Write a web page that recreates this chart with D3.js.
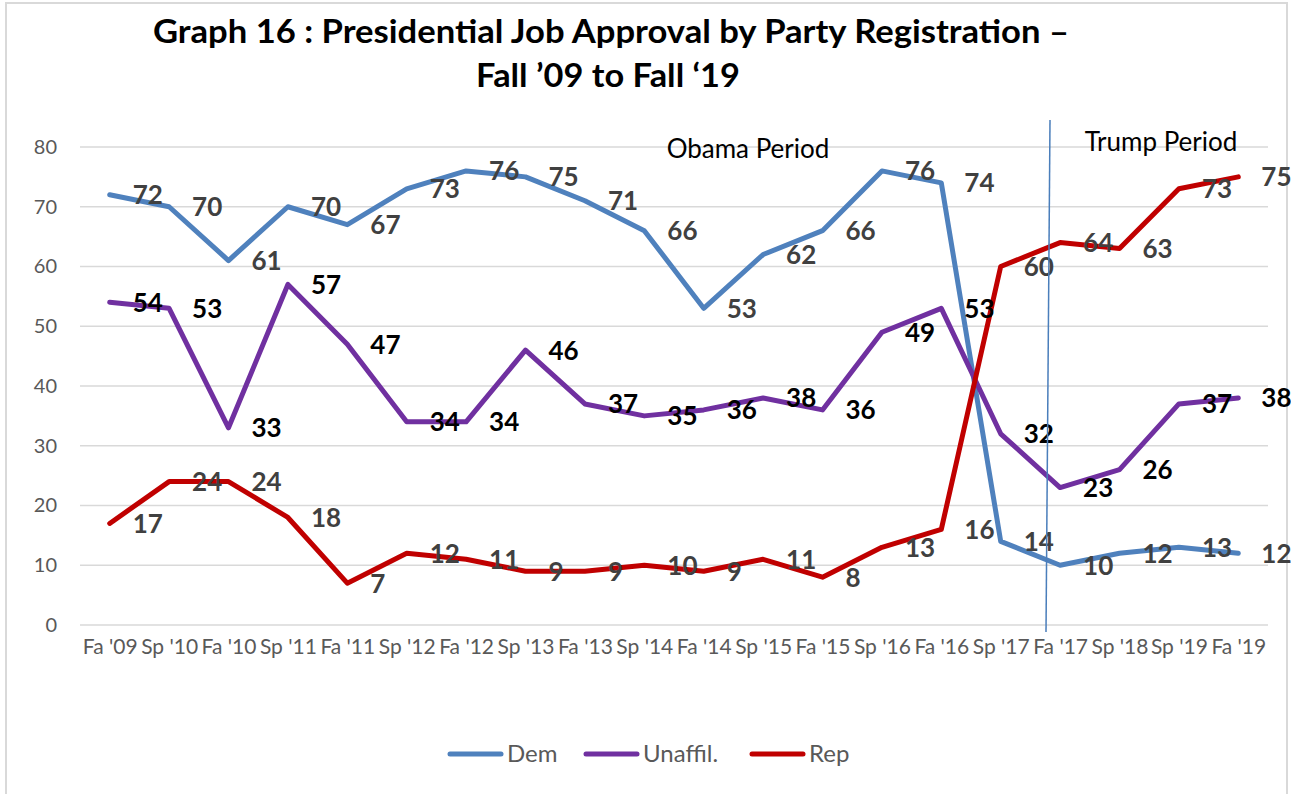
<!DOCTYPE html>
<html>
<head>
<meta charset="utf-8">
<script src="https://cdn.jsdelivr.net/npm/d3@7"></script>
<style>
  html, body { margin: 0; padding: 0; background: #fff; }
  text { font-family: Lato, "Open Sans", sans-serif; }
</style>
</head>
<body>
<svg id="chart" width="1291" height="794"></svg>
<script>
// categories along the x axis
const periods = ["Fa '09", "Sp '10", "Fa '10", "Sp '11", "Fa '11", "Sp '12", "Fa '12", "Sp '13", "Fa '13", "Sp '14",
                 "Fa '14", "Sp '15", "Fa '15", "Sp '16", "Fa '16", "Sp '17", "Fa '17", "Sp '18", "Sp '19", "Fa '19"];

// approval % per party registration
const dem     = [72, 70, 61, 70, 67, 73, 76, 75, 71, 66, 53, 62, 66, 76, 74, 14, 10, 12, 13, 12];
const unaffil = [54, 53, 33, 57, 47, 34, 34, 46, 37, 35, 36, 38, 36, 49, 53, 32, 23, 26, 37, 38];
const rep     = [17, 24, 24, 18, 7, 12, 11, 9, 9, 10, 9, 11, 8, 13, 16, 60, 64, 63, 73, 75];

const yTicks = [0, 10, 20, 30, 40, 50, 60, 70, 80];

const series = [
  {name: "Dem", values: dem, color: "#4f81bd", labelColor: "#404040"},
  {name: "Unaffil.", values: unaffil, color: "#7030a0", labelColor: "#000"},
  {name: "Rep", values: rep, color: "#c00000", labelColor: "#404040"}
];

const svg = d3.select("#chart");
const margin = {top: 147, right: 23, bottom: 169, left: 80};
const width = 1291 - margin.left - margin.right;
const height = 794 - margin.top - margin.bottom;

// outer chart border
svg.append("rect")
  .attr("x", 6).attr("y", 3)
  .attr("width", 1281).attr("height", 800)
  .attr("fill", "none")
  .attr("stroke", "#d9d9d9")
  .attr("stroke-width", 2);

// title
const title = svg.append("text")
  .attr("text-anchor", "middle")
  .attr("font-weight", "bold")
  .attr("font-size", 33)
  .attr("fill", "#000");
title.append("tspan").attr("x", 611).attr("y", 43)
  .attr("textLength", 916).attr("lengthAdjust", "spacingAndGlyphs")
  .text("Graph 16 : Presidential Job Approval by Party Registration –");
title.append("tspan").attr("x", 608).attr("y", 87)
  .attr("textLength", 264).attr("lengthAdjust", "spacingAndGlyphs")
  .text("Fall ’09 to Fall ‘19");

const g = svg.append("g").attr("transform", `translate(${margin.left},${margin.top})`);

const x = d3.scalePoint()
  .domain(periods)
  .range([0, width])
  .padding(0.5);

const y = d3.scaleLinear()
  .domain([0, 80])
  .range([height, 0]);

// gridlines
g.append("g")
  .selectAll("line")
  .data(yTicks)
  .join("line")
    .attr("x1", 0).attr("x2", width)
    .attr("y1", d => y(d)).attr("y2", d => y(d))
    .attr("stroke", "#d9d9d9")
    .attr("stroke-width", 1.5);

// y axis
const yAxis = g.append("g")
  .call(d3.axisLeft(y).tickValues(yTicks).tickSize(0).tickPadding(23));
yAxis.select(".domain").remove();
yAxis.selectAll("text")
  .attr("font-size", 20)
  .attr("fill", "#595959")
  .style("font-family", "Lato, sans-serif");

// x axis
const xAxis = g.append("g")
  .attr("transform", `translate(0,${height})`)
  .call(d3.axisBottom(x).tickSize(0).tickPadding(14));
xAxis.select(".domain").remove();
xAxis.selectAll("text")
  .attr("font-size", 21)
  .attr("fill", "#595959")
  .style("font-family", "Lato, sans-serif");

// annotations
svg.append("text")
  .attr("x", 748).attr("y", 158)
  .attr("text-anchor", "middle")
  .attr("font-size", 26)
  .attr("fill", "#000")
  .text("Obama Period");
svg.append("text")
  .attr("x", 1161).attr("y", 151)
  .attr("text-anchor", "middle")
  .attr("font-size", 26)
  .attr("fill", "#000")
  .text("Trump Period");

// divider between the two periods
svg.append("line")
  .attr("x1", 1050).attr("y1", 120)
  .attr("x2", 1046).attr("y2", 632)
  .attr("stroke", "#4a7ebb")
  .attr("stroke-width", 1.5);

const line = d3.line()
  .x((d, i) => x(periods[i]))
  .y(d => y(d));

g.append("g")
  .selectAll("path")
  .data(series)
  .join("path")
    .attr("d", d => line(d.values))
    .attr("fill", "none")
    .attr("stroke", d => d.color)
    .attr("stroke-width", 5)
    .attr("stroke-linejoin", "round")
    .attr("stroke-linecap", "round");

// data labels, to the right of each point
series.forEach(s => {
  g.append("g")
    .selectAll("text")
    .data(s.values)
    .join("text")
      .attr("x", (d, i) => x(periods[i]) + 23)
      .attr("y", d => y(d) + 9.5)
      .attr("font-size", 26)
      .attr("font-weight", "bold")
      .attr("fill", s.labelColor)
      .text(d => d);
});

// legend
const legend = svg.append("g").attr("transform", "translate(448,754)");
const legendX = [0, 136, 302];
series.forEach((s, i) => {
  const item = legend.append("g").attr("transform", `translate(${legendX[i]},0)`);
  item.append("line")
    .attr("x1", 2).attr("x2", 53)
    .attr("stroke", s.color)
    .attr("stroke-width", 5)
    .attr("stroke-linecap", "round");
  item.append("text")
    .attr("x", 59).attr("y", 8)
    .attr("font-size", 24)
    .attr("fill", "#595959")
    .text(s.name);
});
</script>
</body>
</html>
